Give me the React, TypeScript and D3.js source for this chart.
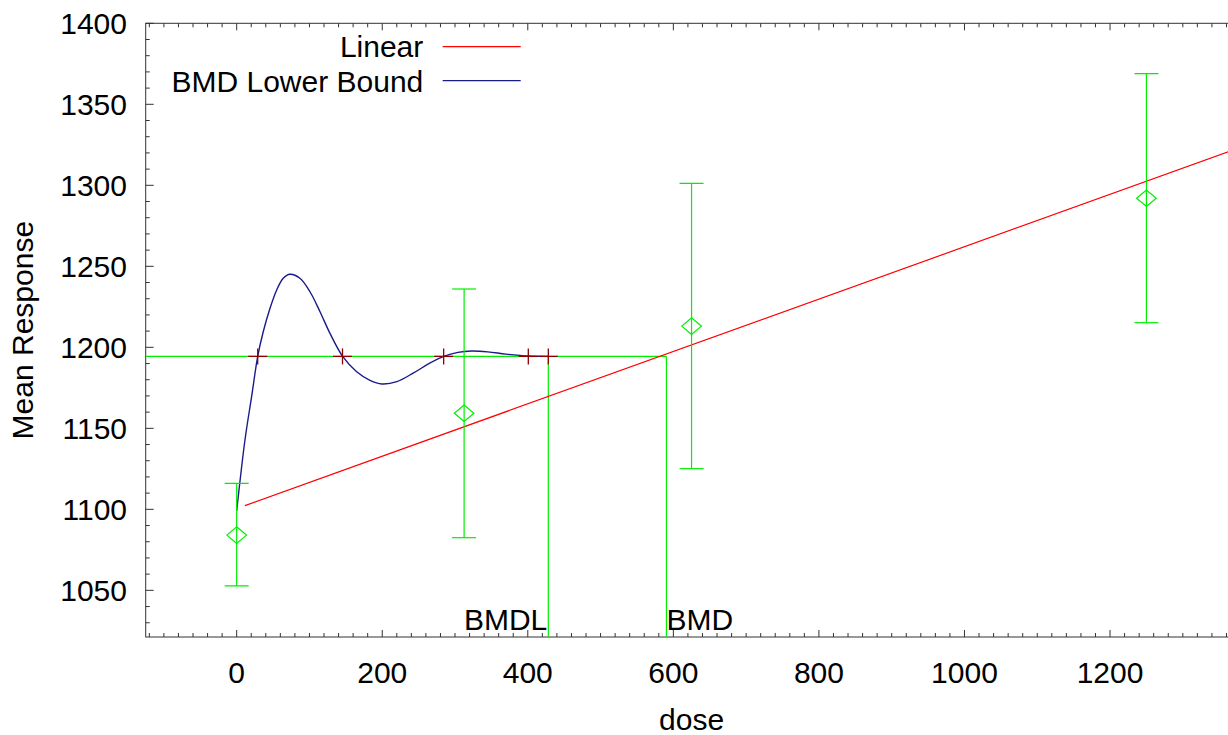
import React from "react";
import * as d3 from "d3";

// ---- data ----
const doses = [0, 312.5, 625, 1250];
const means = [1084.1, 1159.3, 1213.1, 1292.0];
const upperBars = [1116.0, 1236.0, 1301.2, 1368.9];
const lowerBars = [1052.7, 1082.5, 1125.1, 1215.2];

// Linear model endpoints (dose, response)
const linearDose = [11.4, 1375];
const linearResp = [1102.3, 1322.7];

// BMD lower bound curve samples
const lbDose = [0, 11.4, 21.0, 28.9, 36.5, 45.8, 55.0, 64.0, 73.2, 86.9, 100.7, 114.5, 128.2, 145.6, 164.9, 183.2, 199.5, 220, 243, 264, 284.4, 304, 322.9, 345, 370, 400.7, 428.2];
const lbResp = [1099.0, 1142.8, 1171.0, 1194.4, 1209.6, 1224.1, 1235.4, 1242.6, 1245.1, 1242.6, 1234.3, 1222.0, 1208.6, 1194.4, 1184.9, 1179.6, 1177.4, 1178.8, 1184.2, 1189.9, 1194.4, 1196.9, 1197.7, 1197.2, 1195.8, 1194.6, 1194.4];

// cross markers on the BMR line
const crossDoses = [28.9, 145.4, 284.4, 400.7, 428.2];

const bmrLevel = 1194.4;
const bmdl = 428.2;
const bmd = 590.5;

const xTicks = [0, 200, 400, 600, 800, 1000, 1200];
const yTicks = [1050, 1100, 1150, 1200, 1250, 1300, 1350, 1400];

const legendLabels = ["Linear", "BMD Lower Bound"];

const FONT = "'Liberation Sans', Arial, Helvetica, sans-serif";
const FS = 30;

export default function App() {
  const W = 1228, H = 735;
  const left = 145.7, right = 1237.4, top = 23.3, bottom = 637;
  const x = d3.scaleLinear().domain([-125, 1375]).range([left, right]);
  const y = d3.scaleLinear().domain([1021.2, 1400]).range([bottom, top]);

  const xMinor = d3.range(-120, 1376, 20);
  const yMinor = d3.range(1030, 1401, 10);

  const linePts: [number, number][] = linearDose.map((d, i) => [d, linearResp[i]]);
  const lbPts: [number, number][] = lbDose.map((d, i) => [d, lbResp[i]]);
  const lineGen = d3.line<[number, number]>().x(d => x(d[0])).y(d => y(d[1]));
  const curveGen = d3.line<[number, number]>().x(d => x(d[0])).y(d => y(d[1])).curve(d3.curveCatmullRom.alpha(0.5));

  const green = "#00ee00";
  const axisColor = "#333";

  return (
    <svg width={W} height={H} style={{ position: "absolute", left: 0, top: 0, background: "#fff" }} fontFamily={FONT}>
      <defs>
        <clipPath id="plotClip">
          <rect x={left} y={top} width={right - left} height={bottom - top} />
        </clipPath>
      </defs>
      <rect x={0} y={0} width={W} height={H} fill="#fff" />

      {/* frame */}
      <rect x={left} y={top} width={right - left} height={bottom - top} fill="none" stroke={axisColor} strokeWidth={1} />

      {/* x ticks bottom/top */}
      {xMinor.map(v => {
        const major = v % 200 === 0;
        const len = major ? 7 : 4;
        return (
          <g key={"xm" + v}>
            <line x1={x(v)} x2={x(v)} y1={bottom} y2={bottom - len} stroke={axisColor} strokeWidth={1} />
            <line x1={x(v)} x2={x(v)} y1={top} y2={top + len} stroke={axisColor} strokeWidth={1} />
          </g>
        );
      })}
      {/* y ticks left */}
      {yMinor.map(v => {
        const major = v % 50 === 0;
        const len = major ? 8 : 4;
        return (
          <g key={"ym" + v}>
            <line x1={left} x2={left + len} y1={y(v)} y2={y(v)} stroke={axisColor} strokeWidth={1} />
            <line x1={right} x2={right - len} y1={y(v)} y2={y(v)} stroke={axisColor} strokeWidth={1} />
          </g>
        );
      })}

      {/* tick labels */}
      {xTicks.map(v => (
        <text key={"xl" + v} x={x(v)} y={683} textAnchor="middle" fontSize={FS} fill="#000">{v}</text>
      ))}
      {yTicks.map(v => (
        <text key={"yl" + v} x={127} y={y(v) + 10.6} textAnchor="end" fontSize={FS} fill="#000">{v}</text>
      ))}

      {/* axis titles */}
      <text x={(left + right) / 2} y={730} textAnchor="middle" fontSize={FS} fill="#000">dose</text>
      <text transform={`translate(33,${(top + bottom) / 2}) rotate(-90)`} textAnchor="middle" fontSize={FS} fill="#000">Mean Response</text>

      <g clipPath="url(#plotClip)">
        {/* BMR / BMD / BMDL lines */}
        <line x1={left} x2={x(bmd)} y1={y(bmrLevel)} y2={y(bmrLevel)} stroke={green} strokeWidth={1.2} />
        <line x1={x(bmdl)} x2={x(bmdl)} y1={y(bmrLevel)} y2={bottom} stroke={green} strokeWidth={1.2} />
        <line x1={x(bmd)} x2={x(bmd)} y1={y(bmrLevel)} y2={bottom} stroke={green} strokeWidth={1.2} />

        {/* linear fit */}
        <path d={lineGen(linePts) || ""} fill="none" stroke="#ff0000" strokeWidth={1.2} />

        {/* BMD lower bound curve */}
        <path d={curveGen(lbPts) || ""} fill="none" stroke="#1a1a8a" strokeWidth={1.4} />

        {/* cross markers */}
        {crossDoses.map((d, i) => (
          <g key={"c" + i} stroke="#8b0000" strokeWidth={1.3}>
            <line x1={x(d) - 9.5} x2={x(d) + 9.5} y1={y(bmrLevel)} y2={y(bmrLevel)} />
            <line x1={x(d)} x2={x(d)} y1={y(bmrLevel) - 8} y2={y(bmrLevel) + 8} />
          </g>
        ))}

        {/* error bars + means */}
        {doses.map((d, i) => {
          const cx = x(d);
          const cy = y(means[i]);
          return (
            <g key={"e" + i} stroke={green} strokeWidth={1.2} fill="none">
              <line x1={cx} x2={cx} y1={y(upperBars[i])} y2={y(lowerBars[i])} />
              <line x1={cx - 12} x2={cx + 12} y1={y(upperBars[i])} y2={y(upperBars[i])} />
              <line x1={cx - 12} x2={cx + 12} y1={y(lowerBars[i])} y2={y(lowerBars[i])} />
              <path d={`M${cx - 9.8},${cy} L${cx},${cy - 8.3} L${cx + 9.8},${cy} L${cx},${cy + 8.3} Z`} />
            </g>
          );
        })}
      </g>

      {/* BMDL / BMD labels */}
      <text x={x(bmdl) - 1} y={630} textAnchor="end" fontSize={FS} fill="#000">BMDL</text>
      <text x={x(bmd)} y={630} textAnchor="start" fontSize={FS} fill="#000">BMD</text>

      {/* legend */}
      <text x={423.3} y={57} textAnchor="end" fontSize={FS} fill="#000">{legendLabels[0]}</text>
      <line x1={442.7} x2={520.7} y1={46.7} y2={46.7} stroke="#ff0000" strokeWidth={1.2} />
      <text x={423.3} y={91.5} textAnchor="end" fontSize={FS} fill="#000">{legendLabels[1]}</text>
      <line x1={442.7} x2={520.7} y1={80.7} y2={80.7} stroke="#1a1a8a" strokeWidth={1.2} />
    </svg>
  );
}
